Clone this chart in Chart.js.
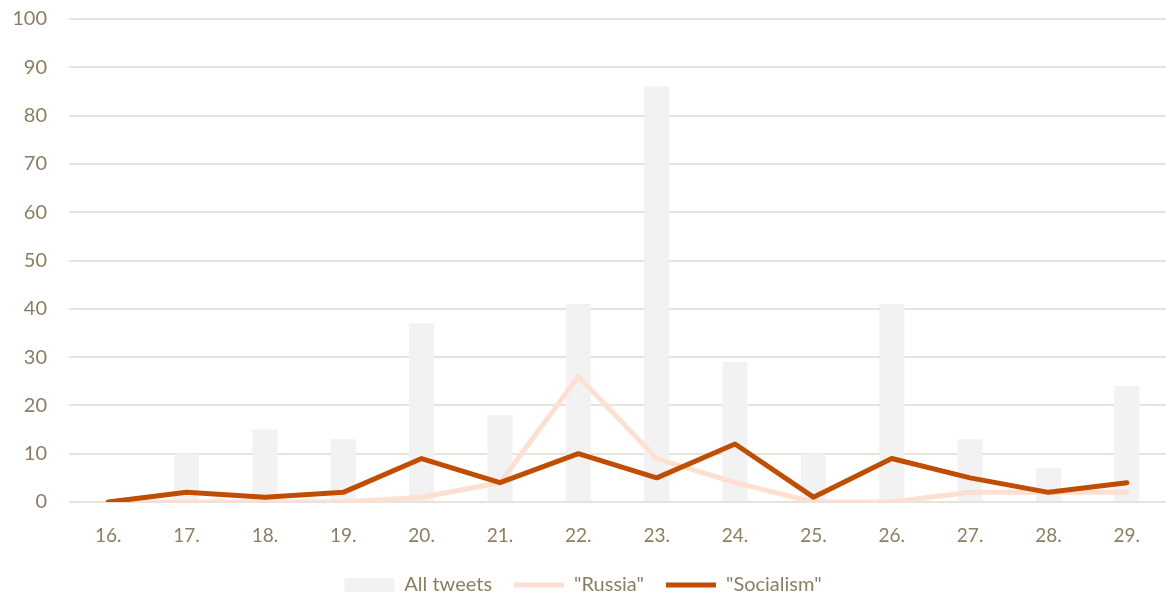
<!DOCTYPE html>
<html>
<head>
<meta charset="utf-8">
<script src="https://cdn.jsdelivr.net/npm/chart.js@4.4.1/dist/chart.umd.min.js"></script>
<style>
  html, body { margin: 0; padding: 0; background: #fff; }
  #wrap { width: 1166px; height: 604px; position: relative; }
</style>
</head>
<body>
<div id="wrap"><canvas id="chart" width="1166" height="604"></canvas></div>
<script>
const days = ['16.', '17.', '18.', '19.', '20.', '21.', '22.', '23.', '24.', '25.', '26.', '27.', '28.', '29.'];
const allTweets = [0, 10, 15, 13, 37, 18, 41, 86, 29, 10, 41, 13, 7, 24];
const russia = [0, 0, 0, 0, 1, 4, 26, 9, 4, 0, 0, 2, 2, 2];
const socialism = [0, 2, 1, 2, 9, 4, 10, 5, 12, 1, 9, 5, 2, 4];
const yTicks = [0, 10, 20, 30, 40, 50, 60, 70, 80, 90, 100];

const textColor = '#8a7f62';
const fontFamily = 'Lato, "Open Sans", sans-serif';

// style de légende par dataset : rectangle pour les barres, trait pour les lignes
const legendStyles = ['rect', 'line', 'line'];

// fixe la hauteur de la légende (sinon trop d'espace sous l'axe x)
const legendHeight = {
  id: 'legendHeight',
  afterInit(chart) {
    const lg = chart.legend;
    if (!lg) return;
    const fit = lg.fit.bind(lg);
    lg.fit = function () { fit(); this.height = 51; };
  }
};

new Chart(document.getElementById('chart'), {
  data: {
    labels: days,
    datasets: [
      {
        type: 'bar',
        label: 'All tweets',
        data: allTweets,
        backgroundColor: '#f2f2f2',
        borderWidth: 0,
        barPercentage: 0.32,
        categoryPercentage: 1,
        order: 3
      },
      {
        type: 'line',
        label: '"Russia"',
        data: russia,
        borderColor: '#fde0d2',
        backgroundColor: '#fde0d2',
        borderWidth: 5,
        borderCapStyle: 'round',
        borderJoinStyle: 'round',
        pointRadius: 0,
        tension: 0,
        order: 2
      },
      {
        type: 'line',
        label: '"Socialism"',
        data: socialism,
        borderColor: '#c04d02',
        backgroundColor: '#c04d02',
        borderWidth: 5,
        borderCapStyle: 'round',
        borderJoinStyle: 'round',
        pointRadius: 0,
        tension: 0,
        order: 1
      }
    ]
  },
  plugins: [legendHeight],
  options: {
    responsive: false,
    animation: false,
    layout: { padding: 0 },
    scales: {
      x: {
        offset: true,
        grid: { display: false, drawTicks: false },
        border: { display: false },
        afterFit: (scale) => { scale.height = 51; },
        ticks: { color: textColor, font: { family: fontFamily, size: 19 }, padding: 22 }
      },
      y: {
        min: 0,
        max: 100,
        afterFit: (scale) => {
          scale.width = 69;
          scale.paddingTop = 19;
          scale.paddingBottom = 0;
        },
        afterBuildTicks: (scale) => { scale.ticks = yTicks.map(v => ({ value: v })); },
        grid: { color: '#e6e3da', lineWidth: 2, drawTicks: false },
        border: { display: false },
        ticks: { color: textColor, font: { family: fontFamily, size: 20 }, padding: 22 }
      }
    },
    plugins: {
      tooltip: { enabled: false },
      legend: {
        position: 'bottom',
        labels: {
          color: textColor,
          font: { family: fontFamily, size: 20 },
          usePointStyle: true,
          pointStyleWidth: 50,
          boxHeight: 14,
          padding: 22,
          sort: (a, b) => a.datasetIndex - b.datasetIndex,
          generateLabels: (chart) => {
            const items = Chart.defaults.plugins.legend.labels.generateLabels(chart);
            items.forEach(it => { it.pointStyle = legendStyles[it.datasetIndex]; });
            return items;
          }
        }
      }
    }
  }
});
</script>
</body>
</html>
